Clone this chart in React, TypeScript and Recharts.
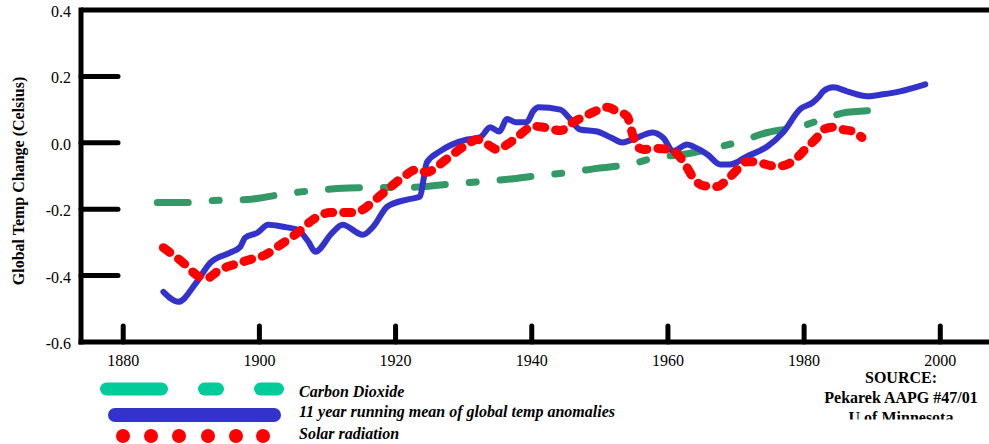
import { LineChart, Line, XAxis, YAxis, ReferenceLine } from "recharts";

const serif = "'Liberation Serif', 'Times New Roman', serif";

const xTicks = [1880, 1900, 1920, 1940, 1960, 1980, 2000];
const yTicks = [-0.6, -0.4, -0.2, 0, 0.2, 0.4];

// 11 year running mean of global temp anomalies
const tempYears = [1885.9, 1888.1, 1890.6, 1892.8, 1895.7, 1897.2, 1897.9, 1899.7, 1901.3, 1903.5, 1905.6, 1907.2, 1908.2, 1910.7, 1912.2, 1915.2, 1916.7, 1918.8, 1921.7, 1923.6, 1924.1, 1924.6, 1926.5, 1930.5, 1932.4, 1933.9, 1935.2, 1936.4, 1937.6, 1939.3, 1940.2, 1941.0, 1944.2, 1945.5, 1947.1, 1949.6, 1951.7, 1953.3, 1954.8, 1957.8, 1959.3, 1960.8, 1962.8, 1963.7, 1965.8, 1967.7, 1969.1, 1971.6, 1974.6, 1976.9, 1979.4, 1981.3, 1982.1, 1982.8, 1984.3, 1986.3, 1989.3, 1991.6, 1994.1, 1997.8];
const tempValues = [-0.449, -0.479, -0.425, -0.361, -0.331, -0.313, -0.286, -0.271, -0.247, -0.253, -0.262, -0.298, -0.328, -0.271, -0.247, -0.277, -0.253, -0.192, -0.171, -0.162, -0.111, -0.059, -0.026, 0.01, 0.016, 0.047, 0.034, 0.072, 0.062, 0.063, 0.095, 0.107, 0.1, 0.075, 0.04, 0.034, 0.015, 0.001, 0.01, 0.031, 0.015, -0.025, -0.005, -0.011, -0.035, -0.065, -0.065, -0.041, -0.011, 0.031, 0.101, 0.122, 0.137, 0.155, 0.167, 0.155, 0.14, 0.146, 0.155, 0.176];

// Solar radiation
const solarYears = [1885.9, 1888.8, 1891.3, 1892.3, 1894.2, 1896.2, 1898.6, 1900.9, 1903.1, 1905.6, 1907.9, 1910.4, 1913.8, 1915.2, 1916.7, 1918.8, 1921.0, 1923.2, 1924.6, 1926.1, 1928.0, 1930.5, 1932.0, 1933.5, 1934.9, 1936.4, 1938.3, 1940.2, 1941.7, 1944.2, 1946.1, 1947.5, 1949.0, 1951.1, 1952.5, 1954.0, 1954.9, 1955.5, 1956.4, 1958.4, 1960.3, 1961.8, 1962.8, 1963.7, 1965.2, 1967.2, 1968.7, 1970.2, 1971.6, 1973.1, 1976.0, 1977.5, 1979.0, 1980.4, 1981.9, 1982.8, 1984.3, 1985.7, 1987.2, 1988.5];
const solarValues = [-0.316, -0.361, -0.404, -0.407, -0.382, -0.367, -0.352, -0.337, -0.307, -0.271, -0.231, -0.21, -0.21, -0.201, -0.177, -0.141, -0.105, -0.08, -0.089, -0.071, -0.041, -0.005, 0.01, -0.005, -0.02, -0.005, 0.025, 0.05, 0.047, 0.037, 0.062, 0.077, 0.092, 0.107, 0.095, 0.08, 0.019, -0.011, -0.02, -0.017, -0.02, -0.044, -0.074, -0.105, -0.129, -0.132, -0.111, -0.08, -0.056, -0.059, -0.071, -0.065, -0.044, -0.014, 0.016, 0.04, 0.047, 0.04, 0.034, 0.016];

// Carbon Dioxide
const co2Years = [1885.0, 1890.3, 1893.2, 1898.2, 1903.1, 1906.4, 1911.4, 1916.3, 1920.7, 1924.1, 1928.5, 1932.4, 1937.3, 1941.2, 1945.6, 1949.6, 1954.4, 1958.4, 1962.2, 1967.2, 1970.6, 1974.6, 1979.0, 1982.8, 1986.3, 1991.2];
const co2Values = [-0.18, -0.18, -0.174, -0.171, -0.156, -0.147, -0.138, -0.135, -0.135, -0.132, -0.123, -0.117, -0.108, -0.098, -0.089, -0.077, -0.065, -0.044, -0.035, -0.014, 0.004, 0.031, 0.047, 0.071, 0.092, 0.098];

const legendLabels = ["Carbon Dioxide", "11 year running mean of global temp anomalies", "Solar radiation"];
const sourceLines = ["SOURCE:", "Pekarek AAPG #47/01", "U of Minnesota"];

const toRows = (xs: number[], ys: number[]) => xs.map((year, i) => ({ year, v: ys[i] }));
const tempData = toRows(tempYears, tempValues);
const solarData = toRows(solarYears, solarValues);
const co2Data = toRows(co2Years, co2Values);

function XTick(props: any) {
  const { x, y, payload } = props;
  return (
    <g>
      <line x1={x} y1={y} x2={x} y2={y - 16} stroke="#000" strokeWidth={5} strokeLinecap="round" />
      <text x={x} y={y} dy={24} textAnchor="middle" fontSize={16} fontFamily={serif} fill="#000">
        {payload.value}
      </text>
    </g>
  );
}

function YTick(props: any) {
  const { x, y, payload } = props;
  const v = payload.value as number;
  const edge = v === 0.4 || v === -0.6;
  return (
    <g>
      {!edge && <line x1={x} y1={y} x2={x + 37} y2={y} stroke="#000" strokeWidth={5} strokeLinecap="round" />}
      <text x={x - 10} y={y} dy={7} textAnchor="end" fontSize={16} fontFamily={serif} fill="#000">
        {v.toFixed(1)}
      </text>
    </g>
  );
}

function YTitle(props: any) {
  const vb = props.viewBox || { x: 0, y: 10, width: 81, height: 332 };
  const cx = vb.x + 18;
  const cy = vb.y + vb.height / 2 + 5;
  return (
    <text
      x={cx}
      y={cy}
      transform={`rotate(-90, ${cx}, ${cy})`}
      textAnchor="middle"
      dominantBaseline="central"
      fontSize={16}
      fontWeight="bold"
      fontFamily={serif}
      fill="#000"
    >
      Global Temp Change (Celsius)
    </text>
  );
}

function Overlay() {
  const italic = { fontSize: 16, fontWeight: "bold" as const, fontStyle: "italic" as const, fontFamily: serif };
  return (
    <svg width={989} height={444} style={{ position: "absolute", left: 0, top: 0, pointerEvents: "none" }}>
      <defs>
        <clipPath id="srcclip">
          <rect x={780} y={360} width={209} height={59.5} />
        </clipPath>
      </defs>
      <g stroke="#00CC99" strokeWidth={13} strokeLinecap="round">
        <line x1={106.5} y1={389} x2={161.5} y2={389} />
        <line x1={204.5} y1={389} x2={217.5} y2={389} />
        <line x1={260.5} y1={389} x2={277.5} y2={389} />
      </g>
      <line x1={115} y1={415} x2={274} y2={415} stroke="#3333CC" strokeWidth={14} strokeLinecap="round" />
      <g fill="#FF0000">
        {[123, 151, 179, 208, 236, 263].map((cx) => (
          <circle key={cx} cx={cx} cy={436} r={7} />
        ))}
      </g>
      <text x={299} y={397} {...italic}>{legendLabels[0]}</text>
      <text x={299} y={417} {...italic}>{legendLabels[1]}</text>
      <text x={299} y={439} {...italic}>{legendLabels[2]}</text>
      <g clipPath="url(#srcclip)" fontSize={16} fontWeight="bold" fontFamily={serif} textAnchor="middle">
        {sourceLines.map((s, i) => (
          <text key={s} x={901} y={383 + i * 20}>{s}</text>
        ))}
      </g>
    </svg>
  );
}

export default function App() {
  return (
    <div style={{ position: "fixed", left: 0, top: 0, width: 989, height: 444, overflow: "hidden", background: "#fff" }}>
      <LineChart width={1050} height={444} margin={{ top: 10, right: 28, bottom: 72, left: 0 }}>
        <XAxis
          type="number"
          dataKey="year"
          domain={[1873.8, 2012]}
          ticks={xTicks}
          allowDataOverflow
          height={30}
          tickSize={0}
          tickMargin={0}
          tick={<XTick />}
          axisLine={{ stroke: "#000", strokeWidth: 5, strokeLinecap: "square" }}
          tickLine={false}
        />
        <YAxis
          type="number"
          domain={[-0.6, 0.4]}
          ticks={yTicks}
          allowDataOverflow
          width={81}
          tickSize={0}
          tickMargin={0}
          tick={<YTick />}
          axisLine={{ stroke: "#000", strokeWidth: 5, strokeLinecap: "square" }}
          tickLine={false}
          label={<YTitle />}
        />
        <ReferenceLine y={0.4} stroke="#000" strokeWidth={5} />
        <Line
          data={co2Data}
          dataKey="v"
          type="monotone"
          stroke="#339966"
          strokeWidth={7}
          strokeLinecap="round"
          strokeDasharray="31 24 7 24"
          dot={false}
          isAnimationActive={false}
        />
        <Line
          data={tempData}
          dataKey="v"
          type="monotone"
          stroke="#3333CC"
          strokeWidth={6}
          strokeLinecap="round"
          dot={false}
          isAnimationActive={false}
        />
        <Line
          data={solarData}
          dataKey="v"
          type="monotone"
          stroke="#FF0000"
          strokeWidth={9}
          strokeLinecap="round"
          strokeDasharray="8 11"
          dot={false}
          isAnimationActive={false}
        />
      </LineChart>
      <Overlay />
    </div>
  );
}
